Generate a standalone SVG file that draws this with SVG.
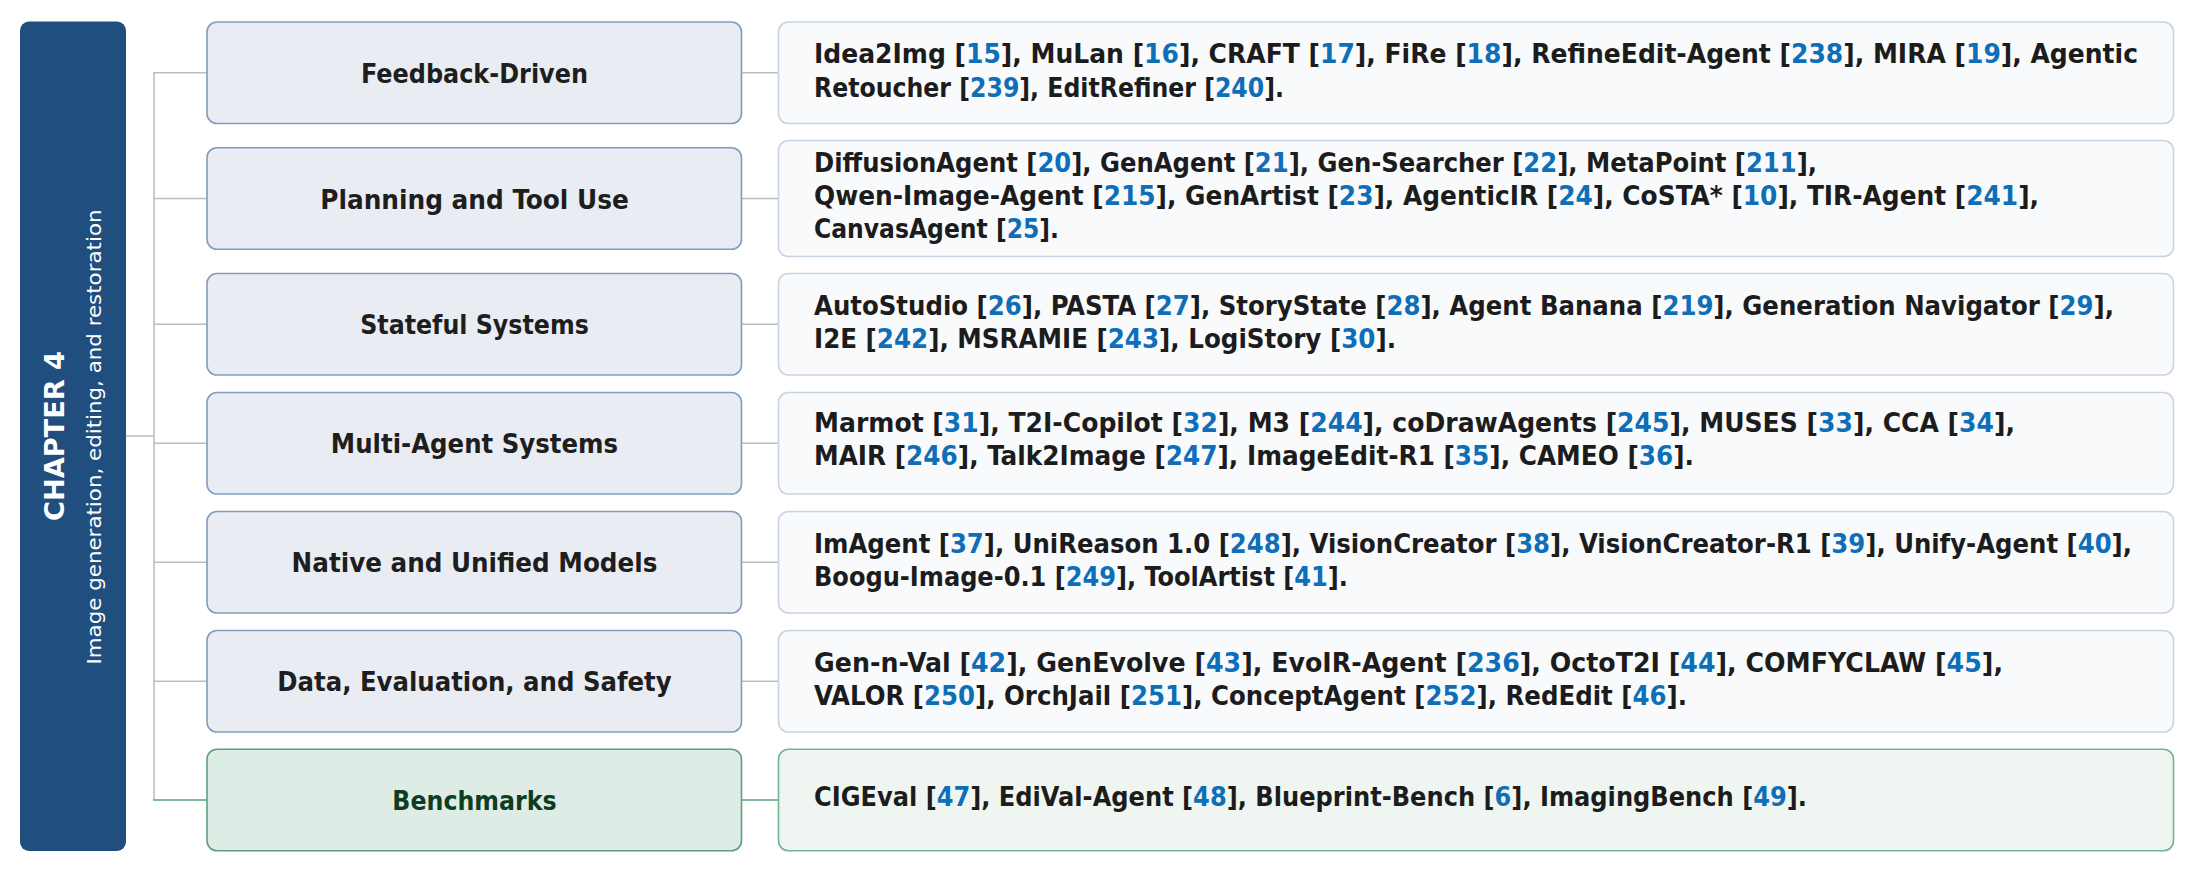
<svg xmlns="http://www.w3.org/2000/svg" width="2194" height="872" viewBox="0 0 2194 872">
<style>
.cat{fill:#E9EDF3;stroke:#7F9DC1;stroke-width:1.6}
.lst{fill:#F8FAFC;stroke:#C8D4E2;stroke-width:1.6}
.bcat{fill:#DDEDE5;stroke:#5CA27E;stroke-width:1.6}
.blst{fill:#EFF6F2;stroke:#74B394;stroke-width:1.6}
.conn{stroke:#BDBDBD;stroke-width:1.6;fill:none}
.gconn{stroke:#5CA27E;stroke-width:1.6;fill:none}
.ct{font-family:"DejaVu Sans Condensed","DejaVu Sans",sans-serif;font-weight:bold;font-size:27px;fill:#1E1E1E;text-anchor:middle}
.bt{fill:#0F3D24}
.t{font-family:"DejaVu Sans Condensed","DejaVu Sans",sans-serif;font-weight:bold;font-size:26px;fill:#1C1C1C}
.n{fill:#0E6EB8}
.ch{font-family:"DejaVu Sans",sans-serif;font-weight:bold;font-size:26px;fill:#FFFFFF;text-anchor:middle}
.sub{font-family:"DejaVu Sans",sans-serif;font-size:19.5px;fill:#FFFFFF;text-anchor:middle}
</style>
<rect width="2194" height="872" fill="#FFFFFF"/>
<g id="connectors">
<path class="conn" d="M126 436H154M154 72V800"/>
<path class="conn" d="M154 72.75H207M741.5 72.75H778.5"/>
<path class="conn" d="M154 198.5H207M741.5 198.5H778.5"/>
<path class="conn" d="M154 324.25H207M741.5 324.25H778.5"/>
<path class="conn" d="M154 443.25H207M741.5 443.25H778.5"/>
<path class="conn" d="M154 562.25H207M741.5 562.25H778.5"/>
<path class="conn" d="M154 681.25H207M741.5 681.25H778.5"/>
<path class="gconn" d="M153.2 800H207M741.5 800H778.5"/>
</g>
<g id="chapter">
<rect x="20" y="21.5" width="106" height="829.5" rx="9" fill="#204E7E"/>
<text class="ch" transform="translate(64 436) rotate(-90)" textLength="170" lengthAdjust="spacingAndGlyphs">CHAPTER 4</text>
<text class="sub" transform="translate(101 437) rotate(-90)" textLength="455" lengthAdjust="spacingAndGlyphs">Image generation, editing, and restoration</text>
</g>
<g id="row1">
<rect class="cat" x="207" y="22" width="534.5" height="101.5" rx="10"/>
<text class="ct" x="474.5" y="82.5" textLength="227" lengthAdjust="spacingAndGlyphs">Feedback-Driven</text>
<rect class="lst" x="778.5" y="22" width="1395" height="101.5" rx="10"/>
<text class="t" x="814" y="63" textLength="1324" lengthAdjust="spacingAndGlyphs">Idea2Img [<tspan class="n">15</tspan>], MuLan [<tspan class="n">16</tspan>], CRAFT [<tspan class="n">17</tspan>], FiRe [<tspan class="n">18</tspan>], RefineEdit-Agent [<tspan class="n">238</tspan>], MIRA [<tspan class="n">19</tspan>], Agentic</text>
<text class="t" x="814" y="96.5" textLength="470" lengthAdjust="spacingAndGlyphs">Retoucher [<tspan class="n">239</tspan>], EditRefiner [<tspan class="n">240</tspan>].</text>
</g>
<g id="row2">
<rect class="cat" x="207" y="147.75" width="534.5" height="101.5" rx="10"/>
<text class="ct" x="474.5" y="208.5" textLength="308.6" lengthAdjust="spacingAndGlyphs">Planning and Tool Use</text>
<rect class="lst" x="778.5" y="140.5" width="1395" height="116" rx="10"/>
<text class="t" x="814" y="171.5" textLength="1003" lengthAdjust="spacingAndGlyphs">DiffusionAgent [<tspan class="n">20</tspan>], GenAgent [<tspan class="n">21</tspan>], Gen-Searcher [<tspan class="n">22</tspan>], MetaPoint [<tspan class="n">211</tspan>],</text>
<text class="t" x="814" y="204.5" textLength="1225" lengthAdjust="spacingAndGlyphs">Qwen-Image-Agent [<tspan class="n">215</tspan>], GenArtist [<tspan class="n">23</tspan>], AgenticIR [<tspan class="n">24</tspan>], CoSTA* [<tspan class="n">10</tspan>], TIR-Agent [<tspan class="n">241</tspan>],</text>
<text class="t" x="814" y="237.5" textLength="245" lengthAdjust="spacingAndGlyphs">CanvasAgent [<tspan class="n">25</tspan>].</text>
</g>
<g id="row3">
<rect class="cat" x="207" y="273.5" width="534.5" height="101.5" rx="10"/>
<text class="ct" x="474.5" y="334" textLength="228.6" lengthAdjust="spacingAndGlyphs">Stateful Systems</text>
<rect class="lst" x="778.5" y="273.5" width="1395" height="101.5" rx="10"/>
<text class="t" x="814" y="314.5" textLength="1300" lengthAdjust="spacingAndGlyphs">AutoStudio [<tspan class="n">26</tspan>], PASTA [<tspan class="n">27</tspan>], StoryState [<tspan class="n">28</tspan>], Agent Banana [<tspan class="n">219</tspan>], Generation Navigator [<tspan class="n">29</tspan>],</text>
<text class="t" x="814" y="347.5" textLength="582" lengthAdjust="spacingAndGlyphs">I2E [<tspan class="n">242</tspan>], MSRAMIE [<tspan class="n">243</tspan>], LogiStory [<tspan class="n">30</tspan>].</text>
</g>
<g id="row4">
<rect class="cat" x="207" y="392.5" width="534.5" height="101.5" rx="10"/>
<text class="ct" x="474.5" y="453" textLength="287.3" lengthAdjust="spacingAndGlyphs">Multi-Agent Systems</text>
<rect class="lst" x="778.5" y="392.5" width="1395" height="101.5" rx="10"/>
<text class="t" x="814" y="432" textLength="1201" lengthAdjust="spacingAndGlyphs">Marmot [<tspan class="n">31</tspan>], T2I-Copilot [<tspan class="n">32</tspan>], M3 [<tspan class="n">244</tspan>], coDrawAgents [<tspan class="n">245</tspan>], MUSES [<tspan class="n">33</tspan>], CCA [<tspan class="n">34</tspan>],</text>
<text class="t" x="814" y="465" textLength="880" lengthAdjust="spacingAndGlyphs">MAIR [<tspan class="n">246</tspan>], Talk2Image [<tspan class="n">247</tspan>], ImageEdit-R1 [<tspan class="n">35</tspan>], CAMEO [<tspan class="n">36</tspan>].</text>
</g>
<g id="row5">
<rect class="cat" x="207" y="511.5" width="534.5" height="101.5" rx="10"/>
<text class="ct" x="474.5" y="572" textLength="365.8" lengthAdjust="spacingAndGlyphs">Native and Unified Models</text>
<rect class="lst" x="778.5" y="511.5" width="1395" height="101.5" rx="10"/>
<text class="t" x="814" y="553" textLength="1318" lengthAdjust="spacingAndGlyphs">ImAgent [<tspan class="n">37</tspan>], UniReason 1.0 [<tspan class="n">248</tspan>], VisionCreator [<tspan class="n">38</tspan>], VisionCreator-R1 [<tspan class="n">39</tspan>], Unify-Agent [<tspan class="n">40</tspan>],</text>
<text class="t" x="814" y="586" textLength="534" lengthAdjust="spacingAndGlyphs">Boogu-Image-0.1 [<tspan class="n">249</tspan>], ToolArtist [<tspan class="n">41</tspan>].</text>
</g>
<g id="row6">
<rect class="cat" x="207" y="630.5" width="534.5" height="101.5" rx="10"/>
<text class="ct" x="474.5" y="691" textLength="394.4" lengthAdjust="spacingAndGlyphs">Data, Evaluation, and Safety</text>
<rect class="lst" x="778.5" y="630.5" width="1395" height="101.5" rx="10"/>
<text class="t" x="814" y="671.5" textLength="1189" lengthAdjust="spacingAndGlyphs">Gen-n-Val [<tspan class="n">42</tspan>], GenEvolve [<tspan class="n">43</tspan>], EvoIR-Agent [<tspan class="n">236</tspan>], OctoT2I [<tspan class="n">44</tspan>], COMFYCLAW [<tspan class="n">45</tspan>],</text>
<text class="t" x="814" y="704.5" textLength="873" lengthAdjust="spacingAndGlyphs">VALOR [<tspan class="n">250</tspan>], OrchJail [<tspan class="n">251</tspan>], ConceptAgent [<tspan class="n">252</tspan>], RedEdit [<tspan class="n">46</tspan>].</text>
</g>
<g id="row7">
<rect class="bcat" x="207" y="749.25" width="534.5" height="101.5" rx="10"/>
<text class="ct bt" x="474.5" y="810" textLength="164.3" lengthAdjust="spacingAndGlyphs">Benchmarks</text>
<rect class="blst" x="778.5" y="749.25" width="1395" height="101.5" rx="10"/>
<text class="t" x="814" y="806" textLength="993" lengthAdjust="spacingAndGlyphs">CIGEval [<tspan class="n">47</tspan>], EdiVal-Agent [<tspan class="n">48</tspan>], Blueprint-Bench [<tspan class="n">6</tspan>], ImagingBench [<tspan class="n">49</tspan>].</text>
</g>
</svg>
